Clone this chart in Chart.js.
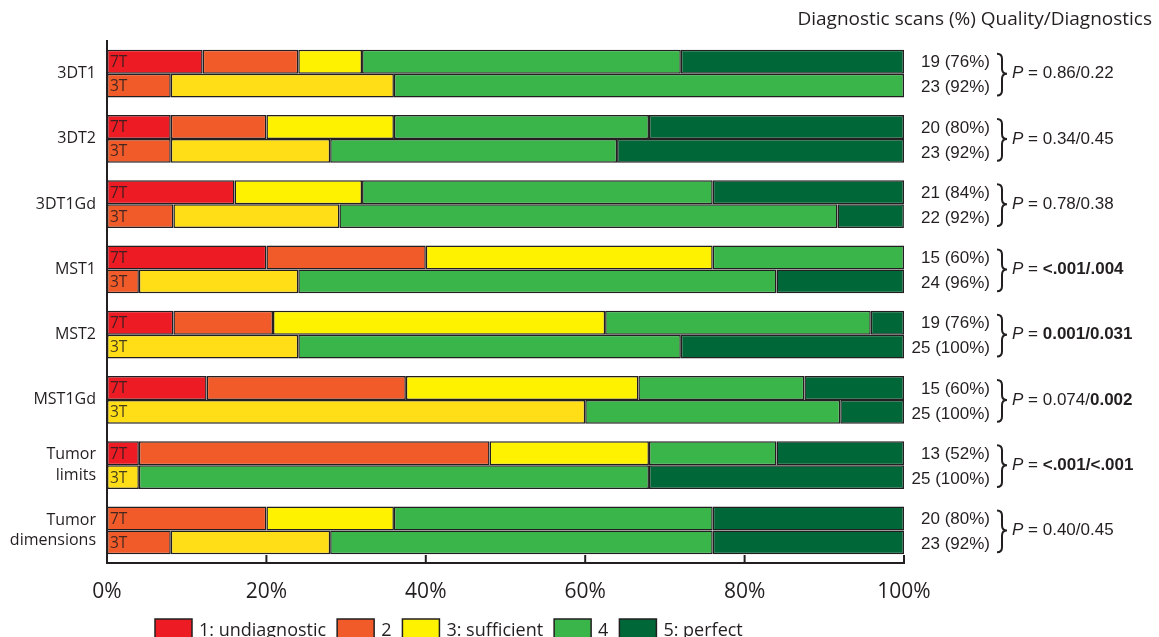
<!DOCTYPE html>
<html>
<head>
<meta charset="utf-8">
<script src="https://cdn.jsdelivr.net/npm/chart.js@4"></script>
<style>
html,body{margin:0;padding:0;background:#fff;}
#wrap{width:1159px;height:637px;position:relative;}
</style>
</head>
<body>
<div id="wrap"><canvas id="c" width="1159" height="637"></canvas></div>
<script>
// ---- data ----
const categories = ['3DT1','3DT2','3DT1Gd','MST1','MST2','MST1Gd',['Tumor','limits'],['Tumor','dimensions']];
const ratingLabels = ['1: undiagnostic','2','3: sufficient','4','5: perfect'];
const xTickValues = [0,20,40,60,80,100];

// 7T percentages per rating
const r1_7T = [12, 8, 16, 20, 8.33, 12.5, 4, null];
const r2_7T = [12, 12, null, 20, 12.5, 25, 44, 20];
const r3_7T = [8, 16, 16, 36, 41.67, 29.17, 20, 16];
const r4_7T = [40, 32, 44, 24, 33.33, 20.83, 16, 40];
const r5_7T = [28, 32, 24, null, 4.17, 12.5, 16, 24];
// 3T percentages per rating
const r1_3T = [null, null, null, null, null, null, null, null];
const r2_3T = [8, 8, 8.33, 4, null, null, null, 8];
const r3_3T = [28, 20, 20.83, 20, 24, 60, 4, 20];
const r4_3T = [64, 36, 62.5, 60, 48, 32, 64, 48];
const r5_3T = [null, 36, 8.33, 16, 28, 8, 32, 24];

const diag7T = ['19 (76%)','20 (80%)','21 (84%)','15 (60%)','19 (76%)','15 (60%)','13 (52%)','20 (80%)'];
const diag3T = ['23 (92%)','23 (92%)','22 (92%)','24 (96%)','25 (100%)','25 (100%)','25 (100%)','23 (92%)'];
const pNormal = ['0.86/0.22','0.34/0.45','0.78/0.38','','','0.074/','','0.40/0.45'];
const pBold   = ['','','','<.001/.004','0.001/0.031','0.002','<.001/<.001',''];
const titleText = 'Diagnostic scans (%) Quality/Diagnostics';

// ---- styles ----
const colors = ['#ED1C24','#F15A29','#FFF200','#39B54A','#006838'];
const colors3T = ['#ED1C24','#F15A29','#FFDE17','#39B54A','#006838'];
const edge = '#231F20';
const MY = '"Open Sans", "Noto Sans", sans-serif';
const AR = '"Liberation Sans", Arial, sans-serif';

const data7T = [r1_7T, r2_7T, r3_7T, r4_7T, r5_7T];
const data3T = [r1_3T, r2_3T, r3_3T, r4_3T, r5_3T];

const datasets = [];
data7T.forEach((d, i) => datasets.push({label: ratingLabels[i], data: d, stack: '7T', backgroundColor: colors[i]}));
data3T.forEach((d, i) => datasets.push({label: ratingLabels[i], data: d, stack: '3T', backgroundColor: colors3T[i]}));
datasets.forEach(ds => { ds.borderColor = edge; ds.borderWidth = 1.5; ds.borderSkipped = false; ds.categoryPercentage = 0.735; ds.barPercentage = 1.0; });

const annot = {
  id: 'annot',
  afterDatasetsDraw(chart) {
    const ctx = chart.ctx;
    const xs = chart.scales.x;
    const area = chart.chartArea;
    ctx.save();
    // inner ticks on x axis
    ctx.strokeStyle = edge; ctx.lineWidth = 2;
    xTickValues.forEach(v => {
      const px = xs.getPixelForValue(v);
      ctx.beginPath(); ctx.moveTo(px, area.bottom - 8); ctx.lineTo(px, area.bottom); ctx.stroke();
    });
    // 7T / 3T labels
    const m7 = chart.getDatasetMeta(2), m3 = chart.getDatasetMeta(7);
    ctx.font = '15.5px ' + MY; ctx.fillStyle = 'rgba(35,31,32,0.85)'; ctx.textBaseline = 'middle'; ctx.textAlign = 'left';
    categories.forEach((c, i) => {
      ctx.fillText('7T', area.left + 3, m7.data[i].y + 1);
      ctx.fillText('3T', area.left + 3, m3.data[i].y + 1);
    });
    // right annotations
    ctx.fillStyle = edge;
    categories.forEach((c, i) => {
      const y7 = m7.data[i].y, y3 = m3.data[i].y, mid = (y7 + y3) / 2;
      ctx.font = '17px ' + AR; ctx.textAlign = 'right';
      ctx.fillText(diag7T[i], 990, y7 + 1);
      ctx.fillText(diag3T[i], 990, y3 + 2);
      // brace
      const top = y7 - 8, bot = y3 + 10, x0 = 997;
      ctx.lineWidth = 2; ctx.strokeStyle = edge;
      ctx.beginPath();
      ctx.moveTo(x0, top);
      ctx.quadraticCurveTo(x0 + 5, top, x0 + 5, top + 5);
      ctx.lineTo(x0 + 5, mid - 5);
      ctx.quadraticCurveTo(x0 + 5, mid, x0 + 10, mid);
      ctx.quadraticCurveTo(x0 + 5, mid, x0 + 5, mid + 5);
      ctx.lineTo(x0 + 5, bot - 5);
      ctx.quadraticCurveTo(x0 + 5, bot, x0, bot);
      ctx.stroke();
      // P value
      let x = 1012;
      ctx.textAlign = 'left';
      ctx.font = 'italic 17px ' + AR; ctx.fillText('P', x, mid); x += ctx.measureText('P').width;
      ctx.font = '17px ' + AR; ctx.fillText(' = ', x, mid); x += ctx.measureText(' = ').width;
      if (pNormal[i]) { ctx.fillText(pNormal[i], x, mid); x += ctx.measureText(pNormal[i]).width; }
      if (pBold[i]) { ctx.font = 'bold 17px ' + AR; ctx.fillText(pBold[i], x, mid); }
    });
    // title
    ctx.font = '19px ' + MY; ctx.textAlign = 'right'; ctx.fillStyle = edge;
    ctx.fillText(titleText, 1152, 20);
    // legend
    ctx.font = '18px ' + MY; ctx.textAlign = 'left'; ctx.textBaseline = 'alphabetic';
    let lx = 155;
    ratingLabels.forEach((lab, i) => {
      ctx.fillStyle = colors[i]; ctx.fillRect(lx, 619, 37, 21);
      ctx.strokeStyle = edge; ctx.lineWidth = 1.5; ctx.strokeRect(lx, 619, 37, 21);
      lx += 44;
      ctx.fillStyle = edge; ctx.fillText(lab, lx, 636);
      lx += ctx.measureText(lab).width + 11;
    });
    ctx.restore();
  }
};

new Chart(document.getElementById('c'), {
  type: 'bar',
  data: { labels: categories, datasets },
  options: {
    indexAxis: 'y',
    responsive: false,
    animation: false,
    devicePixelRatio: 1,
    layout: { padding: { top: 41, right: 255, left: 0, bottom: 0 } },
    plugins: { legend: { display: false }, tooltip: { enabled: false } },
    scales: {
      x: {
        stacked: true, min: 0, max: 100,
        afterFit: s => { s.height = 74; },
        afterBuildTicks: s => { s.ticks = xTickValues.map(v => ({ value: v })); },
        grid: { display: false, drawTicks: false },
        border: { display: true, color: edge, width: 2 },
        ticks: { callback: v => v + '%', padding: 16, color: edge, font: { family: MY, size: 21 }, maxRotation: 0 }
      },
      y: {
        stacked: true,
        afterFit: s => { s.width = 107; },
        grid: { display: false, drawTicks: false },
        border: { display: true, color: edge, width: 2 },
        ticks: { padding: 11, color: edge, font: { family: MY, size: 16, lineHeight: 1.3 } }
      }
    }
  },
  plugins: [annot]
});
</script>
</body>
</html>
